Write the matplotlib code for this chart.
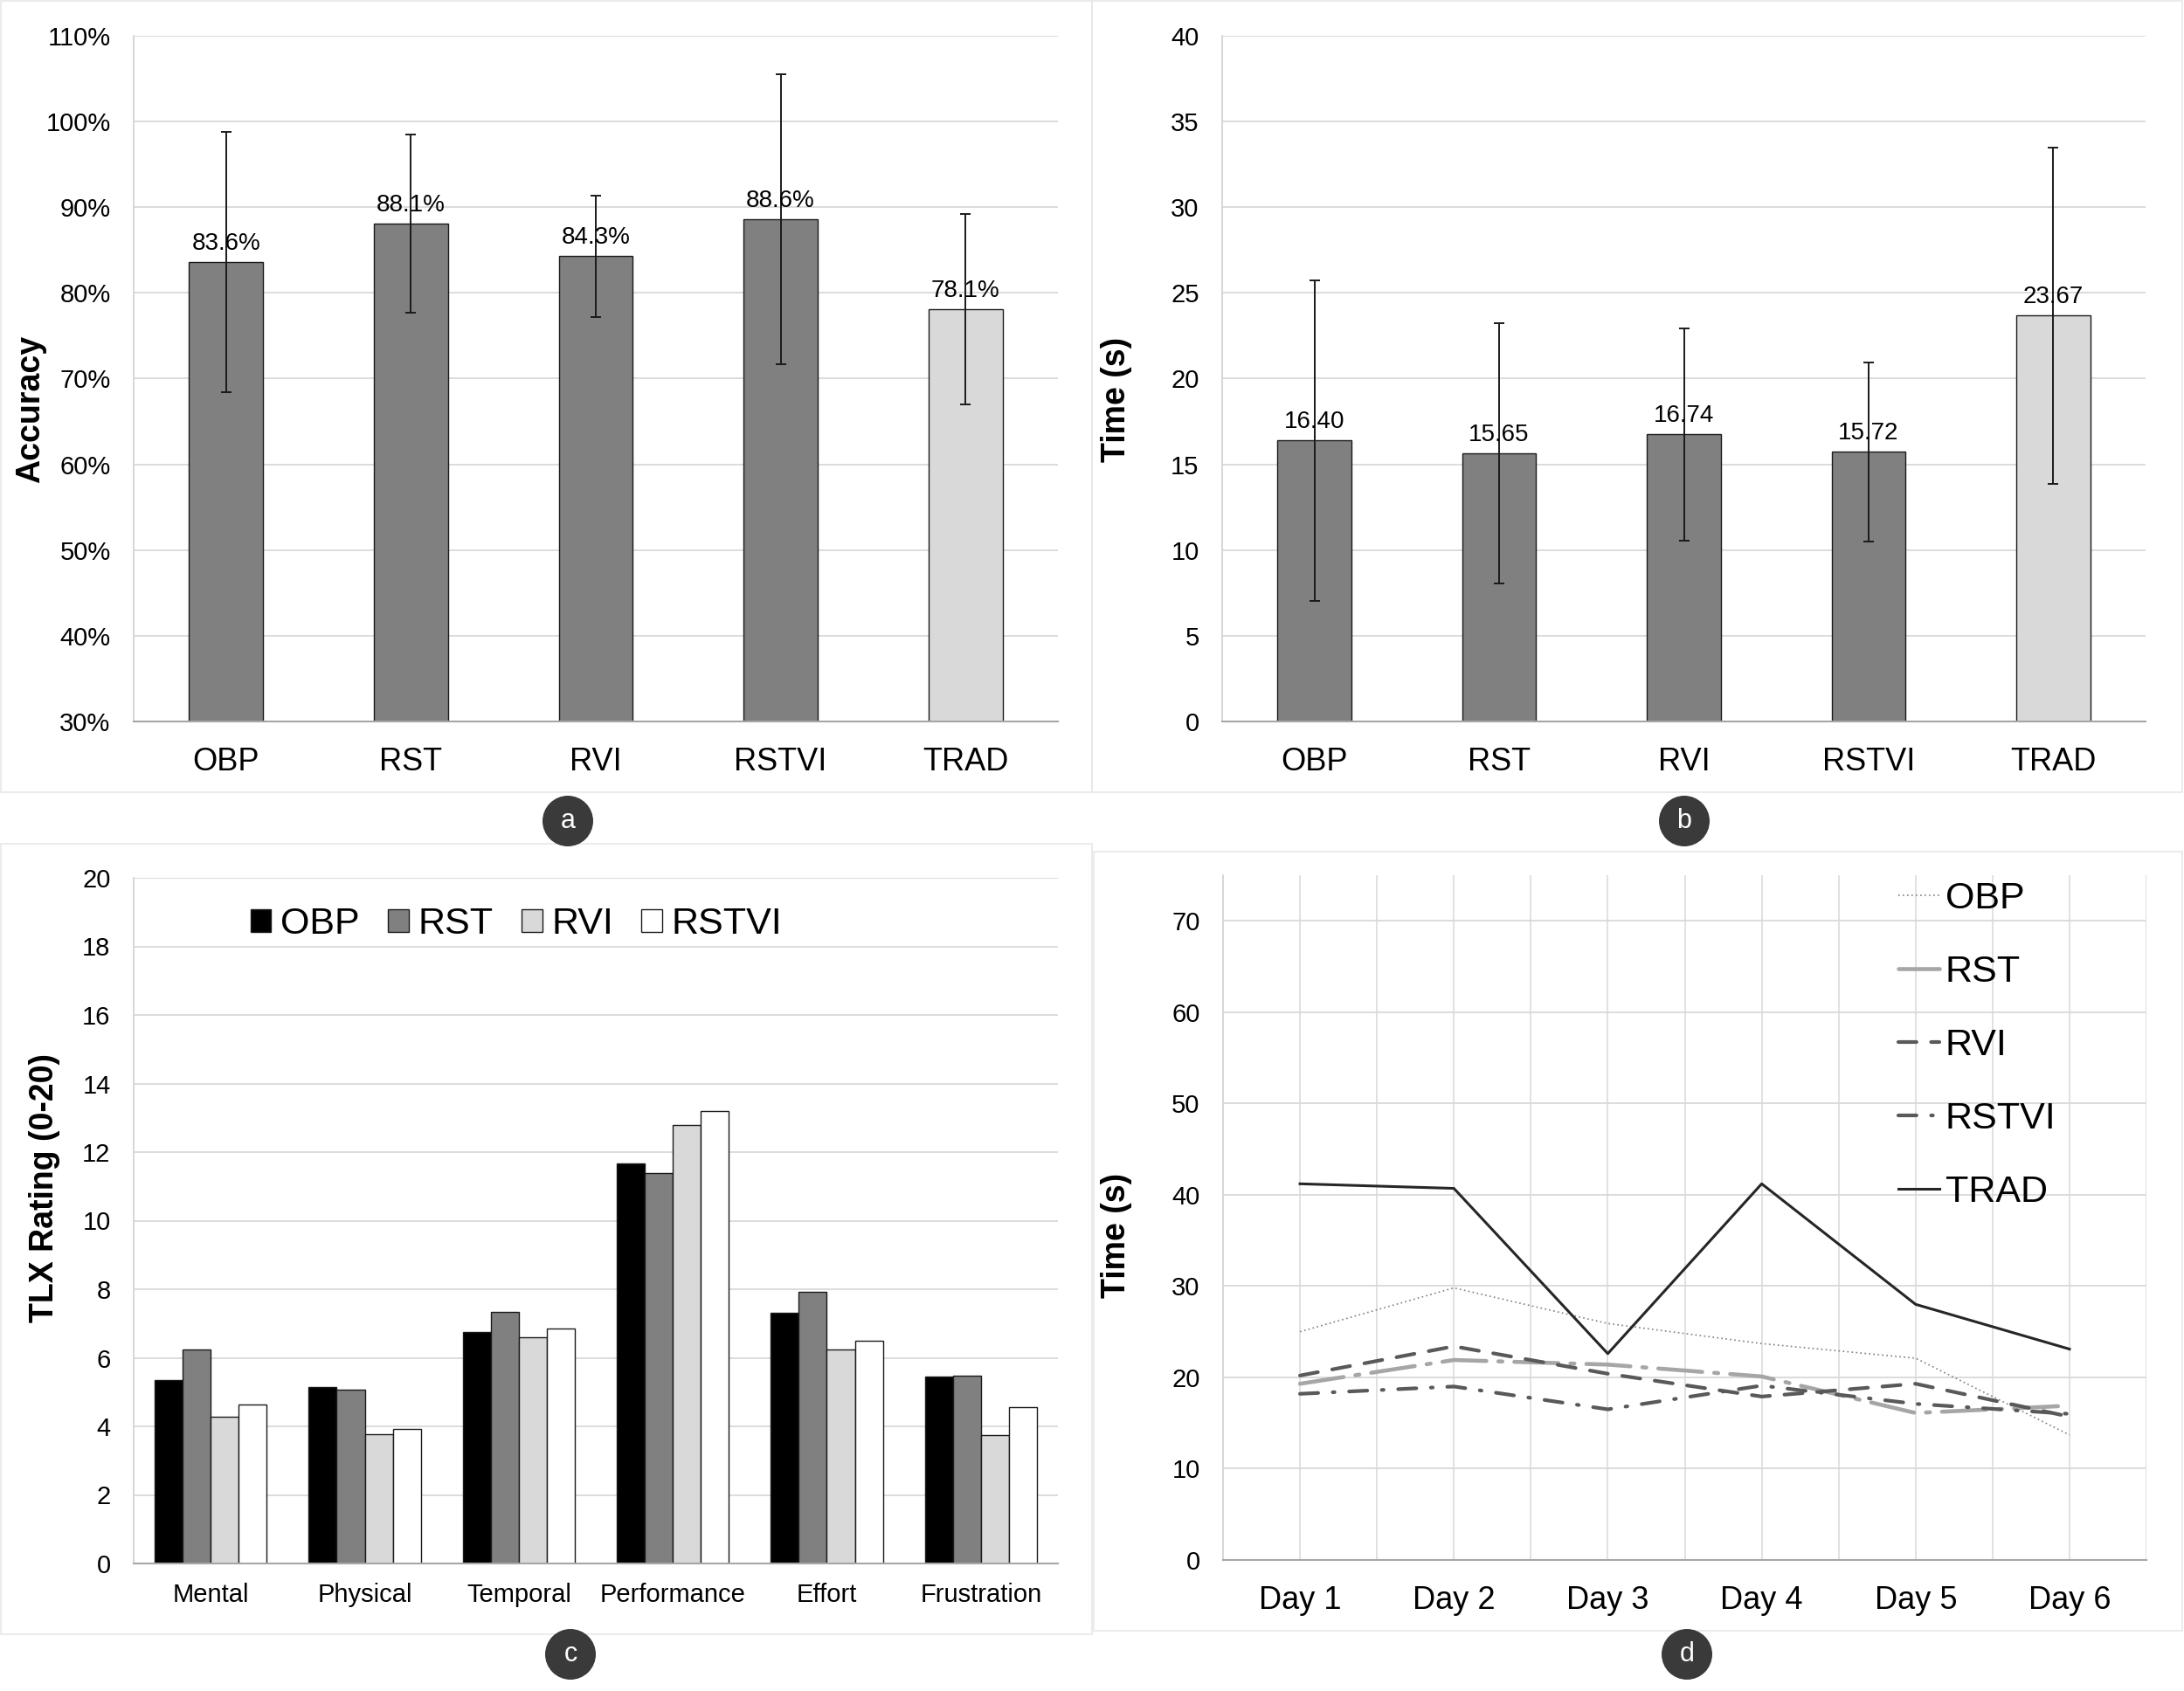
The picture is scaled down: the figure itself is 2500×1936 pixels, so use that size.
import matplotlib
matplotlib.use("Agg")
import matplotlib.pyplot as plt
from matplotlib.patches import Rectangle, Ellipse
from matplotlib.ticker import FuncFormatter
import numpy as np

plt.rcParams['font.family'] = ['Liberation Sans', 'DejaVu Sans']

# ---- data ----
methods = ['OBP', 'RST', 'RVI', 'RSTVI', 'TRAD']
accuracy = [0.836, 0.881, 0.843, 0.886, 0.781]
accuracy_err = [0.152, 0.104, 0.071, 0.169, 0.111]
acc_labels = ['83.6%', '88.1%', '84.3%', '88.6%', '78.1%']

time_mean = [16.40, 15.65, 16.74, 15.72, 23.67]
time_err = [9.35, 7.6, 6.2, 5.2, 9.8]

tlx_cats = ['Mental', 'Physical', 'Temporal', 'Performance', 'Effort', 'Frustration']
tlx_obp = [5.34, 5.15, 6.75, 11.67, 7.31, 5.45]
tlx_rst = [6.25, 5.08, 7.33, 11.39, 7.93, 5.47]
tlx_rvi = [4.29, 3.77, 6.59, 12.80, 6.23, 3.74]
tlx_rstvi = [4.64, 3.93, 6.86, 13.19, 6.49, 4.56]

days = ['Day 1', 'Day 2', 'Day 3', 'Day 4', 'Day 5', 'Day 6']
day_obp = [25.0, 29.8, 25.9, 23.7, 22.1, 13.7]
day_rst = [19.3, 21.9, 21.4, 20.1, 16.1, 16.9]
day_rvi = [20.2, 23.4, 20.4, 17.9, 19.3, 15.7]
day_rstvi = [18.2, 19.0, 16.5, 19.1, 17.1, 16.0]
day_trad = [41.2, 40.7, 22.6, 41.2, 28.0, 23.1]

W, H = 2500, 1936
fig = plt.figure(figsize=(25, 19.36), dpi=100)


def px_axes(left, top, right, bottom):
    return fig.add_axes([left / W, 1 - bottom / H, (right - left) / W, (bottom - top) / H])


def style_bar_axes(ax):
    for s in ['top', 'right']:
        ax.spines[s].set_visible(False)
    ax.spines['left'].set_color('#d0d0d0')
    ax.spines['bottom'].set_color('#a6a6a6')
    ax.spines['left'].set_linewidth(1.2)
    ax.spines['bottom'].set_linewidth(1.5)
    ax.grid(axis='y', color='#d9d9d9', linewidth=1.3)
    ax.set_axisbelow(True)
    ax.tick_params(axis='both', length=0)
    ax.tick_params(axis='y', pad=19, labelsize=21)


# panel borders
for (l, t, r, b) in [(1, 1, 1250, 907), (1250, 1, 2498, 907), (1, 966, 1250, 1871), (1252, 975, 2498, 1867)]:
    fig.add_artist(Rectangle((l / W, 1 - b / H), (r - l) / W, (b - t) / H, transform=fig.transFigure,
                             fill=False, edgecolor='#e8e8e8', linewidth=1.2))

bar_colors = ['#808080'] * 4 + ['#d9d9d9']
x = np.arange(len(methods))

# ---- a: accuracy ----
ax = px_axes(153, 41, 1211, 826)
ax.bar(x, accuracy, width=0.4, color=bar_colors, edgecolor='#1a1a1a', linewidth=1.0, bottom=0, zorder=2)
ax.errorbar(x, accuracy, yerr=accuracy_err, fmt='none', ecolor='#1a1a1a', elinewidth=1.4,
            capsize=4, capthick=1.4, zorder=3)
for xi, v, lab in zip(x, accuracy, acc_labels):
    ax.annotate(lab, (xi, v), xytext=(0, 6), textcoords='offset points', ha='center', va='bottom',
                fontsize=20, zorder=4)
ax.set_ylim(0.3, 1.1)
ax.set_xlim(-0.5, 4.5)
ax.set_yticks(np.arange(0.3, 1.101, 0.1))
ax.yaxis.set_major_formatter(FuncFormatter(lambda v, p: f'{v:.0%}'))
ax.set_xticks(x)
ax.set_xticklabels(methods)
style_bar_axes(ax)
ax.tick_params(axis='x', pad=21, labelsize=26)
ax.set_ylabel('Accuracy', fontsize=27, fontweight='bold')
ax.yaxis.set_label_coords(-0.0945, 0.455)

# ---- b: time ----
ax = px_axes(1399, 41, 2456, 826)
ax.bar(x, time_mean, width=0.4, color=bar_colors, edgecolor='#1a1a1a', linewidth=1.0, zorder=2)
ax.errorbar(x, time_mean, yerr=time_err, fmt='none', ecolor='#1a1a1a', elinewidth=1.4,
            capsize=4, capthick=1.4, zorder=3)
for xi, v in zip(x, time_mean):
    ax.annotate(f'{v:.2f}', (xi, v), xytext=(0, 6), textcoords='offset points', ha='center', va='bottom',
                fontsize=20, zorder=4)
ax.set_ylim(0, 40)
ax.set_xlim(-0.5, 4.5)
ax.set_yticks(np.arange(0, 41, 5))
ax.set_xticks(x)
ax.set_xticklabels(methods)
style_bar_axes(ax)
ax.tick_params(axis='x', pad=21, labelsize=26)
ax.set_ylabel('Time (s)', fontsize=27, fontweight='bold')
ax.yaxis.set_label_coords(-0.097, 0.469)

# ---- c: TLX ----
ax = px_axes(153, 1005, 1211, 1790)
xc = np.arange(len(tlx_cats))
bw = 0.182
series = [('OBP', tlx_obp, '#000000'), ('RST', tlx_rst, '#808080'),
          ('RVI', tlx_rvi, '#d9d9d9'), ('RSTVI', tlx_rstvi, '#ffffff')]
for i, (name, vals, col) in enumerate(series):
    ax.bar(xc + (i - 1.5) * bw, vals, width=bw, color=col, edgecolor='#1a1a1a', linewidth=1.0,
           label=name, zorder=2)
ax.set_ylim(0, 20)
ax.set_xlim(-0.5, 5.5)
ax.set_yticks(np.arange(0, 21, 2))
ax.set_xticks(xc)
ax.set_xticklabels(tlx_cats)
style_bar_axes(ax)
ax.tick_params(axis='y', labelsize=21)
ax.tick_params(axis='x', pad=16, labelsize=21)
ax.set_ylabel('TLX Rating (0-20)', fontsize=27, fontweight='bold')
ax.yaxis.set_label_coords(-0.079, 0.548)
ax.legend(ncol=4, loc='center left', bbox_to_anchor=(0.11, 0.932), frameon=False, fontsize=31,
          handlelength=0.55, handleheight=0.55, handletextpad=0.25, columnspacing=0.75, borderaxespad=0)

# ---- d: time per day ----
ax = px_axes(1400, 1002, 2457, 1786)
xd = np.arange(1, len(days) + 1)
ax.plot(xd, day_obp, color='#7f7f7f', linewidth=1.2, linestyle=(0, (1, 2)), label='OBP')
ax.plot(xd, day_rst, color='#a6a6a6', linewidth=3.3, linestyle=(0, (11, 3, 1, 3)),
        dash_capstyle='round', label='RST')
ax.plot(xd, day_rvi, color='#595959', linewidth=3.0, linestyle=(0, (5, 4)),
        dash_capstyle='round', label='RVI')
ax.plot(xd, day_rstvi, color='#595959', linewidth=3.0, linestyle=(0, (5, 4, 0.5, 4)),
        dash_capstyle='round', label='RSTVI')
ax.plot(xd, day_trad, color='#262626', linewidth=2.2, label='TRAD')
ax.set_xlim(0.5, 6.5)
ax.set_ylim(0, 75)
ax.set_yticks(np.arange(0, 71, 10))
ax.set_xticks(xd)
ax.set_xticklabels(days)
ax.set_xticks(np.arange(1.5, 6.6, 1.0), minor=True)
for s in ['top', 'right']:
    ax.spines[s].set_visible(False)
ax.spines['left'].set_color('#d0d0d0')
ax.spines['left'].set_linewidth(1.2)
ax.spines['bottom'].set_color('#a6a6a6')
ax.spines['bottom'].set_linewidth(1.5)
ax.grid(axis='y', color='#d9d9d9', linewidth=1.3)
ax.grid(axis='x', which='both', color='#d9d9d9', linewidth=1.1)
ax.set_axisbelow(True)
ax.tick_params(axis='both', which='both', length=0)
ax.tick_params(axis='y', pad=19, labelsize=21)
ax.tick_params(axis='x', pad=21, labelsize=26)
ax.set_ylabel('Time (s)', fontsize=27, fontweight='bold')
ax.yaxis.set_label_coords(-0.098, 0.474)
ax.legend(loc='upper left', bbox_to_anchor=(0.715, 1.013), frameon=False, fontsize=31,
          handlelength=1.1, handletextpad=0.15, labelspacing=1.02, borderaxespad=0)

# panel letters
for letter, cx, cy in [('a', 650, 940), ('b', 1928, 940), ('c', 653, 1894), ('d', 1931, 1894)]:
    fig.add_artist(Ellipse((cx / W, 1 - cy / H), 58 / W, 58 / H, transform=fig.transFigure,
                           facecolor='#3a3a3a', edgecolor='none'))
    fig.text(cx / W, 1 - cy / H, letter, color='white', fontsize=22, ha='center', va='center')

fig.savefig('out.png', dpi=100, facecolor='white')
